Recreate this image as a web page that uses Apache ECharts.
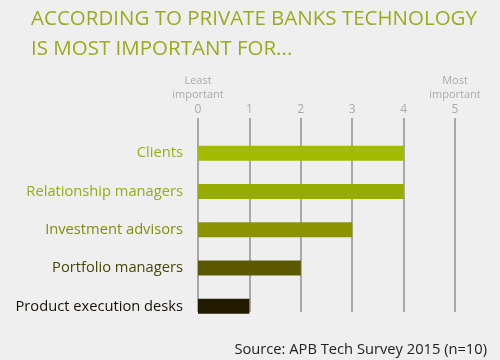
<!DOCTYPE html>
<html>
<head>
<meta charset="utf-8">
<script src="https://cdn.jsdelivr.net/npm/echarts@6/dist/echarts.min.js"></script>
<style>html,body{margin:0;padding:0;background:#efefef;}#c{width:500px;height:360px;}</style>
</head>
<body>
<div id="c"></div>
<script>
const categories = ['Clients', 'Relationship managers', 'Investment advisors', 'Portfolio managers', 'Product execution desks'];
const values = [4, 4, 3, 2, 1];
const barColors = ['#a2ba00', '#98ab00', '#8c9300', '#5c5800', '#231a02'];
const labelColors = ['#96b010', '#96ac12', '#808e08', '#4a4608', '#161208'];
const tickValues = [0, 1, 2, 3, 4, 5];
const endNames = { 0: 'Least\nimportant', 5: 'Most\nimportant' };

const chart = echarts.init(document.getElementById('c'));
const font = '"Open Sans", "Noto Sans", sans-serif';
chart.setOption({
  backgroundColor: '#efefef',
  textStyle: { fontFamily: font },
  title: [{
    text: 'ACCORDING TO PRIVATE BANKS TECHNOLOGY\nIS MOST IMPORTANT FOR...',
    left: 26, top: -1,
    textStyle: { color: '#9aab1e', fontSize: 20.5, fontWeight: 'normal', lineHeight: 30, fontFamily: font }
  }, {
    text: 'Source: APB Tech Survey 2015 (n=10)',
    right: 8, top: 337,
    textStyle: { color: '#222', fontSize: 14.7, fontWeight: 'normal', fontFamily: font }
  }],
  grid: [
    { left: 198, right: 45, top: 118, bottom: 48 },
    { left: 198, right: 45, top: 134, bottom: 34.5 }
  ],
  xAxis: [{
    gridIndex: 0, type: 'value', position: 'top', min: 0, max: 5, interval: 1,
    axisLine: { show: false }, axisTick: { show: false },
    splitLine: { show: true, lineStyle: { color: '#a8a8a8', width: 2 } },
    axisLabel: {
      margin: 0,
      formatter: function (v) {
        const idx = tickValues.indexOf(v);
        if (idx < 0) return '';
        const n = endNames[v];
        return n ? '{n|' + n.split('\n').join('}\n{n|') + '}\n{v|' + v + '}' : '{v|' + v + '}';
      },
      rich: {
        n: { color: '#ababab', fontSize: 11, lineHeight: 14, fontFamily: font },
        v: { color: '#ababab', fontSize: 12, lineHeight: 16, fontFamily: font }
      }
    }
  }, {
    gridIndex: 1, type: 'value', min: 0, max: 5, show: false
  }],
  yAxis: [{
    gridIndex: 0, type: 'value', show: false
  }, {
    gridIndex: 1, type: 'category', data: categories, inverse: true,
    axisLine: { show: false }, axisTick: { show: false }, splitLine: { show: false },
    axisLabel: {
      margin: 15, fontSize: 14.7, fontFamily: font,
      color: function (v, i) { return labelColors[i]; }
    }
  }],
  series: [{
    type: 'bar', xAxisIndex: 1, yAxisIndex: 1, z: 5,
    data: values.map((v, i) => ({ value: v, itemStyle: { color: barColors[i] } })),
    barWidth: 15, silent: true
  }]
});
</script>
</body>
</html>
